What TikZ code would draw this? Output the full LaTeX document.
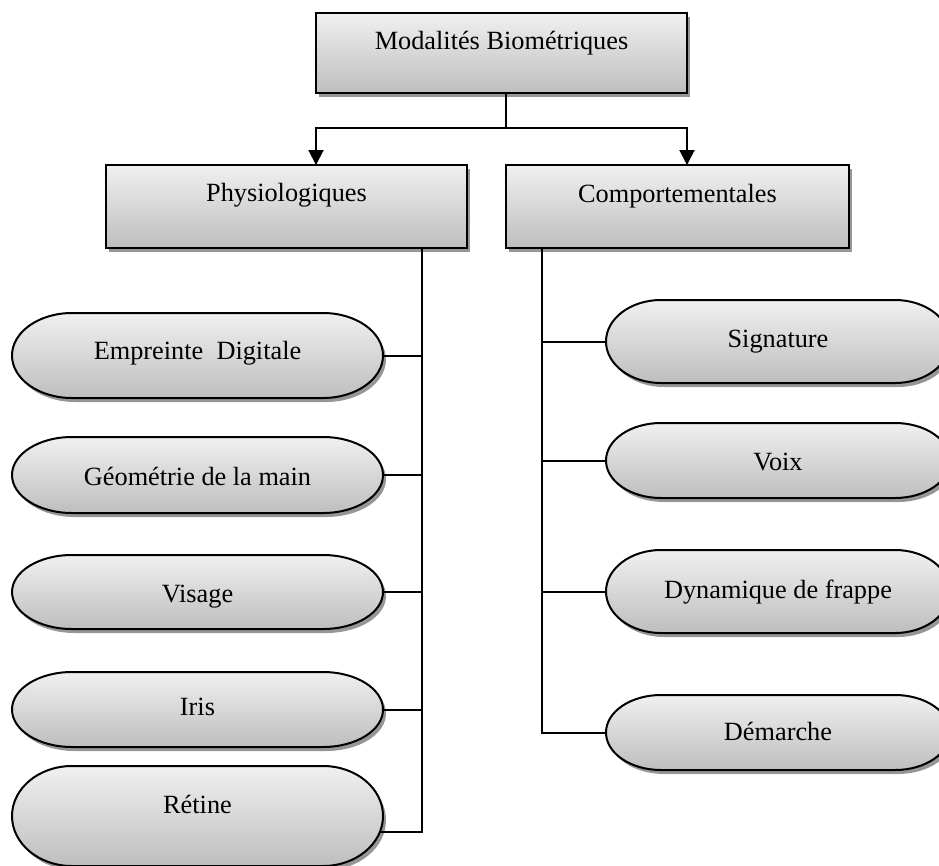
\documentclass[tikz,border=0pt]{standalone}
\usepackage{fontspec}
\setmainfont{Liberation Serif}
\usetikzlibrary{arrows.meta,shadows,backgrounds,calc}
\definecolor{gtop}{RGB}{240,240,240}
\definecolor{gbot}{RGB}{190,190,190}
\definecolor{shd}{RGB}{150,150,150}
\begin{document}
\begin{tikzpicture}[x=1pt,y=-1pt,
  lbl/.style={font=\fontsize{26.3}{30}\selectfont, inner sep=0pt, outer sep=0pt},
  box/.style={draw, line width=2pt, top color=gtop, bottom color=gbot,
    inner sep=0pt, outer sep=0pt,
    drop shadow={shadow xshift=3pt, shadow yshift=-4pt, fill=shd, opacity=1}},
  pill/.style={inner sep=0pt, outer sep=0pt},
  conn/.style={line width=2pt, draw=black},
  arr/.style={conn, -{Triangle[width=15pt,length=15pt]}}]
\useasboundingbox (0,0) rectangle (939,865);

% boxes
\node[box, minimum width=371pt, minimum height=80pt,
  label={[lbl,anchor=base,yshift=-36pt]north:Modalités Biométriques}] (top) at (501.5,53) {};
\node[box, minimum width=361pt, minimum height=83pt,
  label={[lbl,anchor=base,yshift=-36pt]north:Physiologiques}] (phy) at (286.5,206.5) {};
\node[box, minimum width=343pt, minimum height=83pt,
  label={[lbl,anchor=base,yshift=-37pt]north:Comportementales}] (comp) at (677.5,206.5) {};

% left pills
\node[pill, minimum width=371pt, minimum height=85pt,
  label={[lbl,anchor=base,yshift=-46pt]north:Empreinte\ \ Digitale}] (emp) at (197.5,355.5) {};
\node[pill, minimum width=371pt, minimum height=76pt,
  label={[lbl,anchor=base,yshift=-48pt]north:Géométrie de la main}] (geo) at (197.5,475) {};
\node[pill, minimum width=371pt, minimum height=74pt,
  label={[lbl,anchor=base,yshift=-47pt]north:Visage}] (vis) at (197.5,592) {};
\node[pill, minimum width=371pt, minimum height=75pt,
  label={[lbl,anchor=base,yshift=-43pt]north:Iris}] (iri) at (197.5,709.5) {};
\node[pill, minimum width=371pt, minimum height=100pt,
  label={[lbl,anchor=base,yshift=-47pt]north:Rétine}] (ret) at (197.5,816) {};

% right pills
\node[pill, minimum width=344pt, minimum height=83pt,
  label={[lbl,anchor=base,yshift=-47pt]north:Signature}] (sig) at (778,341.5) {};
\node[pill, minimum width=344pt, minimum height=75pt,
  label={[lbl,anchor=base,yshift=-47pt]north:Voix}] (voi) at (778,460.5) {};
\node[pill, minimum width=344pt, minimum height=83pt,
  label={[lbl,anchor=base,yshift=-48pt]north:Dynamique de frappe}] (dyn) at (778,591.5) {};
\node[pill, minimum width=344pt, minimum height=75pt,
  label={[lbl,anchor=base,yshift=-45pt]north:Démarche}] (dem) at (778,732.5) {};

% pill shapes (terminator outline) behind the texts
\begin{scope}[on background layer]
\foreach \nm/\rx in {emp/60,geo/60,vis/60,iri/60,ret/60,sig/55,voi/55,dyn/55,dem/55}{
  \fill[shd] let \p1=($(\nm.north)-(\nm.south)$), \n1={0.5*\y1} in
    ($(\nm.north west)+(\rx pt+3pt,-4pt)$) -- ($(\nm.north east)+(-\rx pt+3pt,-4pt)$)
    arc[start angle=90,end angle=-90,x radius=\rx pt,y radius={\n1*1pt}]
    -- ($(\nm.south west)+(\rx pt+3pt,-4pt)$)
    arc[start angle=270,end angle=90,x radius=\rx pt,y radius={\n1*1pt}] -- cycle;
  \path[draw, line width=2pt, top color=gtop, bottom color=gbot]
    let \p1=($(\nm.north)-(\nm.south)$), \n1={0.5*\y1} in
    ($(\nm.north west)+(\rx pt,0pt)$) -- ($(\nm.north east)+(-\rx pt,0pt)$)
    arc[start angle=90,end angle=-90,x radius=\rx pt,y radius={\n1*1pt}]
    -- ($(\nm.south west)+(\rx pt,0pt)$)
    arc[start angle=270,end angle=90,x radius=\rx pt,y radius={\n1*1pt}] -- cycle;
}
\end{scope}

% top split
\coordinate (topout) at ($(top.south)+(4.5,0)$);
\coordinate (split) at ($(topout)+(0,35)$);
\coordinate (phyin) at ($(phy.north west)+(210,0)$);
\coordinate (comin) at ($(comp.north west)+(181,0)$);
\draw[conn] (topout) -- (split);
\draw[arr] (split) -| (phyin);
\draw[arr] (split) -| (comin);

% left trunk
\coordinate (lt) at ($(phy.south east)+(-45,0)$);
\coordinate (retj) at ($(ret.east)+(-3,16)$);
\draw[conn] (lt) |- (retj);
\foreach \nm in {emp,geo,vis,iri}{
  \draw[conn] (\nm.east) -- (\nm.east -| lt);
}

% right trunk
\coordinate (rt) at ($(comp.south west)+(36,0)$);
\draw[conn] (rt) |- (dem.west);
\foreach \nm in {sig,voi,dyn}{
  \draw[conn] (\nm.west -| rt) -- (\nm.west);
}
\end{tikzpicture}
\end{document}
